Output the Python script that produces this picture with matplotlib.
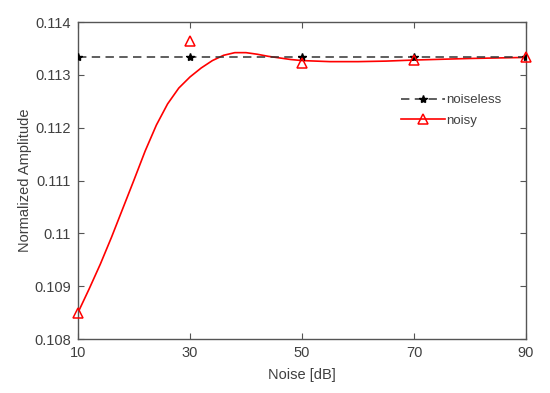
import matplotlib
matplotlib.use("Agg")
import matplotlib.pyplot as plt
from matplotlib.lines import Line2D

plt.rcParams["font.family"] = ["Liberation Sans", "DejaVu Sans"]

# measured points
noise_db = [10, 30, 50, 70, 90]
noiseless = [0.11333, 0.11333, 0.11333, 0.11333, 0.11333]
noisy = [0.108495, 0.11364, 0.11322, 0.11329, 0.11333]

# fitted curve through the noisy data
fit_x = [10, 12, 14, 16, 18, 20, 22, 24, 26, 28, 30, 32, 34, 36, 38, 40,
         42, 44, 46, 48, 50, 55, 60, 65, 70, 80, 90]
fit_y = [0.10850, 0.10895, 0.10942, 0.10993, 0.11047, 0.11101, 0.11156,
         0.11205, 0.11245, 0.11275, 0.11296, 0.11313, 0.11327, 0.11337,
         0.11342, 0.11342, 0.11339, 0.11335, 0.11332, 0.11329, 0.11327,
         0.11325, 0.11325, 0.11326, 0.11328, 0.11331, 0.11333]

xticks = [10, 30, 50, 70, 90]
yticks = [0.108, 0.109, 0.11, 0.111, 0.112, 0.113, 0.114]
ytick_labels = ["0.108", "0.109", "0.11", "0.111", "0.112", "0.113", "0.114"]

txt = "#404040"
dash = (0, (5.5, 3.5))

fig = plt.figure(figsize=(5.5, 3.93), dpi=100)
ax = fig.add_axes([0.1418, 0.1374, 0.8146, 0.8066])

ax.plot(noise_db, noiseless, color="#333333", ls=dash, lw=1.1,
        marker="*", ms=6, mfc="k", mec="k", zorder=3)
ax.plot(fit_x, fit_y, color="#ff0000", lw=1.2, zorder=2)
ax.plot(noise_db, noisy, ls="none", marker="^", ms=7, mfc="none",
        mec="#ff0000", mew=1.1, zorder=4, clip_on=False)

ax.set_xlim(10, 90)
ax.set_ylim(0.108, 0.114)
ax.set_xticks(xticks)
ax.set_yticks(yticks)
ax.set_yticklabels(ytick_labels)

for s in ax.spines.values():
    s.set_color("#555555")
    s.set_linewidth(1.0)
ax.tick_params(direction="in", length=4, width=0.8, color="#555555",
               labelcolor=txt, labelsize=10.5, top=True, right=True, pad=5)

ax.set_xlabel("Noise [dB]", color=txt, fontsize=10.5, labelpad=6)
ax.set_ylabel("Normalized Amplitude", color=txt, fontsize=10.5, labelpad=2)

handles = [
    Line2D([], [], color="#333333", ls=dash, lw=1.1, marker="*",
           ms=6, mfc="k", mec="k"),
    Line2D([], [], color="#ff0000", lw=1.2, marker="^", ms=7, mfc="none",
           mec="#ff0000", mew=1.1),
]
leg = ax.legend(handles, ["noiseless", "noisy"], loc="upper left",
                bbox_to_anchor=(0.695, 0.81), frameon=False, fontsize=9.5,
                handlelength=3.3, handletextpad=0.1, labelspacing=0.6)
for t in leg.get_texts():
    t.set_color(txt)

fig.savefig("out.png", dpi=100)
